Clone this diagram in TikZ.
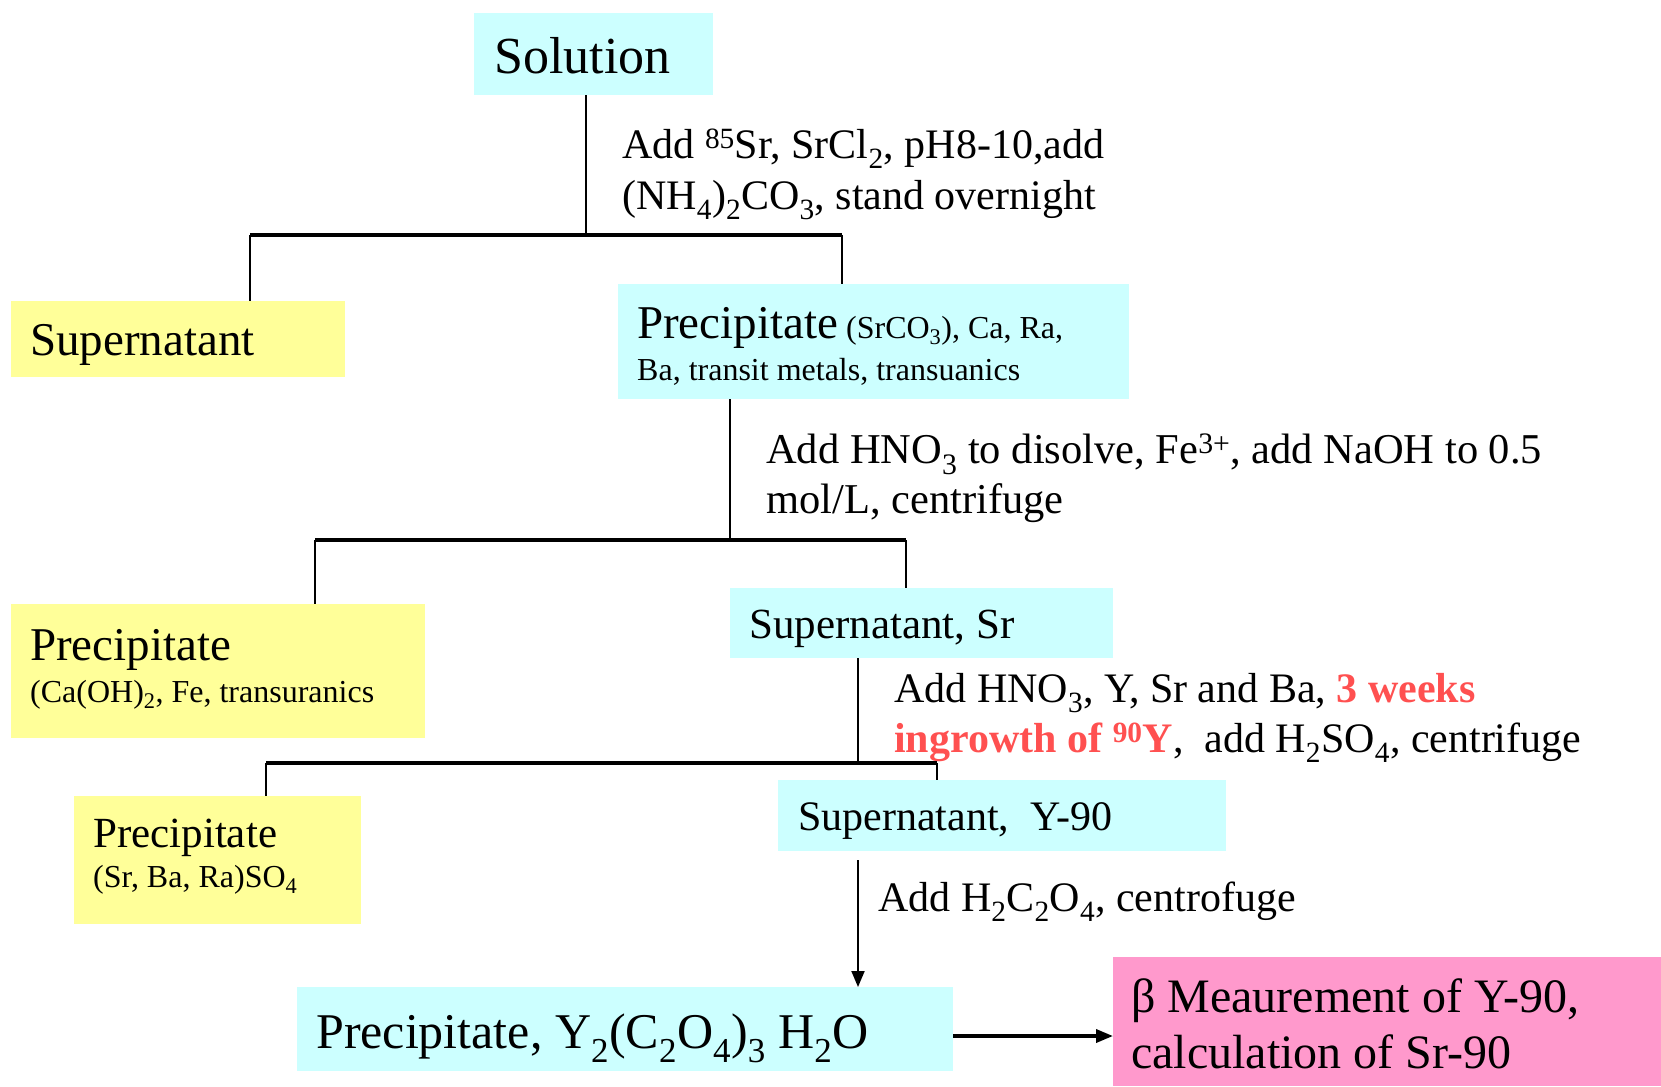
\documentclass[tikz,border=0pt]{standalone}
\usepackage{fontspec}
\setmainfont{Liberation Serif}
\usetikzlibrary{arrows.meta}

\definecolor{cyanfill}{RGB}{204,255,255}
\definecolor{yellowfill}{RGB}{255,255,153}
\definecolor{pinkfill}{RGB}{255,153,204}
\definecolor{redtext}{RGB}{255,80,80}

\newcommand{\fsz}[2]{\fontsize{#1}{#2}\selectfont}

\tikzset{
	stagebox/.style={anchor=north west, inner ysep=0pt, inner xsep=19pt, align=flush left},
	steplabel/.style={anchor=base west, inner sep=0pt, align=left},
	wire/.style={line width=2pt},
	bar/.style={line width=3.5pt},
}

\begin{document}
\begin{tikzpicture}[x=1pt, y=-1pt]
	\useasboundingbox (0,0) rectangle (1661,1086);

	% Define the boxes with specific positions
	\node[stagebox, fill=cyanfill, inner xsep=20pt, text width=199pt, text height=60pt, text depth=22pt,
		font=\fsz{52}{60}] (sol) at (474,13) {Solution};
	\node[stagebox, fill=yellowfill, text width=296pt, text height=54pt, text depth=22pt,
		font=\fsz{47}{54}] (sup1) at (11,301) {Supernatant};
	\node[stagebox, fill=cyanfill, text width=473pt, text height=54pt, text depth=61pt,
		font=\fsz{32}{42}] (pre1) at (618,284)
		{{\fsz{47}{42}Precipitate} (SrCO\textsubscript{3}), Ca, Ra,\\Ba, transit metals, transuanics};
	\node[stagebox, fill=yellowfill, text width=376pt, text height=56pt, text depth=78pt,
		font=\fsz{32}{42}] (pre2) at (11,604)
		{{\fsz{47}{42}Precipitate}\\(Ca(OH)\textsubscript{2}, Fe, transuranics};
	\node[stagebox, fill=cyanfill, text width=345pt, text height=50pt, text depth=20pt,
		font=\fsz{43}{50}] (supSr) at (730,588) {Supernatant, Sr};
	\node[stagebox, fill=yellowfill, text width=249pt, text height=51pt, text depth=77pt,
		font=\fsz{32}{40}] (pre3) at (74,796)
		{{\fsz{43}{40}Precipitate}\\(Sr, Ba, Ra)SO\textsubscript{4}};
	\node[stagebox, fill=cyanfill, inner xsep=20pt, text width=408pt, text height=50pt, text depth=21pt,
		font=\fsz{42}{50}] (supY) at (778,780) {Supernatant,\ \ Y-90};
	\node[stagebox, fill=cyanfill, text width=618pt, text height=61pt, text depth=23pt,
		font=\fsz{50}{58}] (preY) at (297,987)
		{Precipitate, Y\textsubscript{2}(C\textsubscript{2}O\textsubscript{4})\textsubscript{3} H\textsubscript{2}O};
	\node[stagebox, fill=pinkfill, inner xsep=18pt, text width=512pt, text height=55pt, text depth=74pt,
		font=\fsz{48}{56}] (meas) at (1113,957)
		{β Meaurement of Y-90,\\calculation of Sr-90};

	% Labels of the separation steps (placed at the last baseline)
	\node[steplabel, font=\fsz{42}{51}] (l1) at (622,209)
		{Add \textsuperscript{85}Sr, SrCl\textsubscript{2}, pH8-10,add\\(NH\textsubscript{4})\textsubscript{2}CO\textsubscript{3}, stand overnight};
	\node[steplabel, font=\fsz{42.5}{50}] (l2) at (766,513)
		{Add HNO\textsubscript{3} to disolve, Fe\textsuperscript{3+}, add NaOH to 0.5\\mol/L, centrifuge};
	\node[steplabel, font=\fsz{42}{50}] (l3) at (894,752)
		{Add HNO\textsubscript{3}, Y, Sr and Ba, {\color{redtext}\bfseries 3 weeks}\\{\color{redtext}\bfseries ingrowth of \textsuperscript{90}Y},\ \ add H\textsubscript{2}SO\textsubscript{4}, centrifuge};
	\node[steplabel, font=\fsz{42}{50}] (l4) at (878,911) {Add H\textsubscript{2}C\textsubscript{2}O\textsubscript{4}, centrofuge};

	% Junction points of the branches
	\coordinate (j1) at (586,235);
	\coordinate (j1l) at (250,235);
	\coordinate (j1r) at (842,235);
	\coordinate (j2) at (730,540);
	\coordinate (j2l) at (315,540);
	\coordinate (j2r) at (906,540);
	\coordinate (j3) at (858,763);
	\coordinate (j3l) at (266,763);
	\coordinate (j3r) at (937,763);
	\coordinate (a4) at (858,860);
	\coordinate (a5) at (953,1036);

	% Draw the branches between the boxes
	\draw[wire] (sol.south -| j1) -- (j1);
	\draw[bar] (j1l) -- (j1r);
	\draw[wire] (j1l) -- (j1l |- sup1.north);
	\draw[wire] (j1r) -- (j1r |- pre1.north);

	\draw[wire] (pre1.south -| j2) -- (j2);
	\draw[bar] (j2l) -- (j2r);
	\draw[wire] (j2l) -- (j2l |- pre2.north);
	\draw[wire] (j2r) -- (j2r |- supSr.north);

	\draw[wire] (supSr.south -| j3) -- (j3);
	\draw[bar] (j3l) -- (j3r);
	\draw[wire] (j3l) -- (j3l |- pre3.north);
	\draw[wire] (j3r) -- (j3r |- supY.north);

	\draw[wire, -{Triangle[length=16pt, width=13pt]}] (a4) -- (a4 |- preY.north);
	\draw[bar, -{Triangle[length=17pt, width=13pt]}] (a5) -- (a5 -| meas.west);
\end{tikzpicture}
\end{document}
